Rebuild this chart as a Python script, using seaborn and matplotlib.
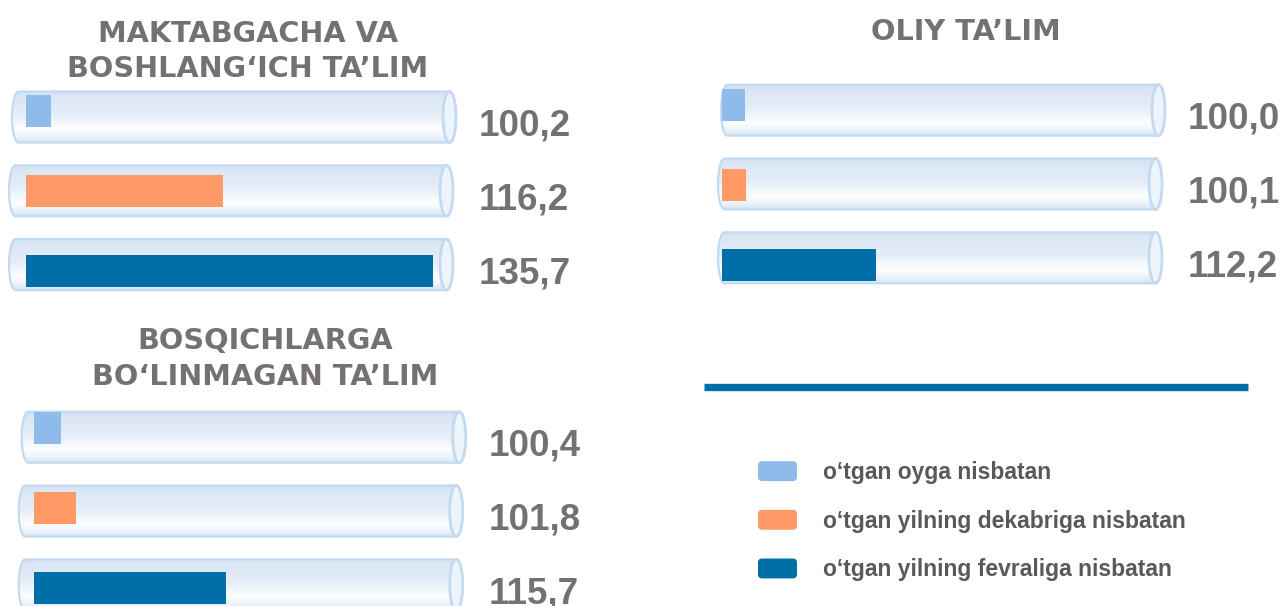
import numpy as np
import pandas as pd
import matplotlib
matplotlib.use("Agg")
import matplotlib.pyplot as plt
import seaborn as sns
from matplotlib import font_manager as fm
from matplotlib.path import Path
from matplotlib.patches import PathPatch, Ellipse, Patch, FancyBboxPatch
from matplotlib.legend_handler import HandlerPatch
from matplotlib.lines import Line2D
from matplotlib.colors import LinearSegmentedColormap

# ---------------- data ----------------
series = [
    "o‘tgan oyga nisbatan",
    "o‘tgan yilning dekabriga nisbatan",
    "o‘tgan yilning fevraliga nisbatan",
]
series_colors = ["#8FBBEB", "#FF9966", "#006FA8"]

maktabgacha_values = [100.2, 116.2, 135.7]
oliy_values = [100.0, 100.1, 112.2]
bosqichsiz_values = [100.4, 101.8, 115.7]

titles = [
    ["MAKTABGACHA VA", "BOSHLANG‘ICH TA’LIM"],
    ["OLIY TA’LIM"],
    ["BOSQICHLARGA", "BO‘LINMAGAN TA’LIM"],
]

# ---------------- style ----------------
sns.set_style("white")
plt.rcParams["font.family"] = ["DejaVu Sans"]


def pick_font(names):
    for name in names:
        try:
            fm.findfont(fm.FontProperties(family=name, weight="bold"),
                        fallback_to_default=False)
            return name
        except ValueError:
            continue
    return "DejaVu Sans"


narrow = pick_font(["Liberation Sans Narrow", "Liberation Sans"])
is_narrow = narrow == "Liberation Sans Narrow"
value_size = 30.5 if is_narrow else 26.5
legend_size = 19.5 if is_narrow else 16.5

TITLE_COLOR = "#767171"
LEGEND_TEXT = "#595959"
TRACK_EDGE = "#C4DAF0"

W, H = 1280, 606
PX_PER_UNIT = 10.76      # horizontal pixels per index point
PX_PER_ROW = 80          # vertical pixels per category row
BASE = 97.9              # left edge of the value scale

track_cmap = LinearSegmentedColormap.from_list(
    "track",
    [(0.0, "#D1E1F2"), (0.08, "#D9E6F4"), (0.45, "#E5EEF8"),
     (0.74, "#FDFEFF"), (0.86, "#F0F5FB"), (1.0, "#D7E5F4")],
)

fig = plt.figure(figsize=(W / 100, H / 100), dpi=100)
fig.patch.set_facecolor("white")

# layout of the three panels (pixels)
panels = [
    dict(values=maktabgacha_values, title=titles[0], left=26, width=427,
         row0=110.85, track0=0.077, title_x=248, title_base=[41.7, 76.7]),
    dict(values=oliy_values, title=titles[1], left=722, width=440,
         row0=105.0, track0=0.065, title_x=966, title_base=[40.0]),
    dict(values=bosqichsiz_values, title=titles[2], left=34, width=428.7,
         row0=427.85, track0=0.117, title_x=265, title_base=[349.0, 385.0]),
]

TRACK_LEN_PX = 444
TRACK_H_PX = 51
CAP_W_PX = 6.5
TRACK_STEP = 0.9225
FIRST_SHIFT_PX = 3


def draw_track(ax, x_left, x_right, yc):
    rx = CAP_W_PX / PX_PER_UNIT
    hh = (TRACK_H_PX / 2) / PX_PER_ROW
    cxr, cxl = x_right - rx, x_left + rx
    t1 = np.linspace(-np.pi / 2, np.pi / 2, 40)
    t2 = np.linspace(np.pi / 2, 3 * np.pi / 2, 40)
    pts = np.vstack([
        np.column_stack([cxr + rx * np.cos(t1), yc + hh * np.sin(t1)]),
        np.column_stack([cxl + rx * np.cos(t2), yc + hh * np.sin(t2)]),
    ])
    path = Path(np.vstack([pts, pts[:1]]), closed=True)

    clip = PathPatch(path, transform=ax.transData)
    grad = np.linspace(0, 1, 256)[:, None]
    im = ax.imshow(grad, cmap=track_cmap, extent=(x_left, x_right, yc + hh, yc - hh),
                   origin="upper", aspect="auto", interpolation="bilinear", zorder=0.5)
    im.set_clip_path(clip)
    im.set_clip_box(fig.bbox)

    ax.add_patch(PathPatch(path, facecolor="none", edgecolor=TRACK_EDGE,
                           lw=1.6, zorder=0.6, clip_on=False))
    ax.add_patch(Ellipse((cxr, yc), 2 * rx, 2 * hh, facecolor="#EDF4FB",
                         edgecolor=TRACK_EDGE, lw=2.0, zorder=0.7, clip_on=False))


for p in panels:
    ax_h = 3 * PX_PER_ROW
    top = p["row0"] - PX_PER_ROW / 2
    ax = fig.add_axes([p["left"] / W, 1 - (top + ax_h) / H, p["width"] / W, ax_h / H])
    ax.patch.set_alpha(0)

    df = pd.DataFrame({"ko‘rsatkich": series, "qiymat": p["values"]})
    sns.barplot(data=df, x="qiymat", y="ko‘rsatkich", hue="ko‘rsatkich",
                palette=series_colors, orient="h", width=0.4, saturation=1,
                legend=False, linewidth=0, ax=ax, zorder=2)

    x_max = BASE + p["width"] / PX_PER_UNIT
    for i, v in enumerate(p["values"]):
        yc = p["track0"] + i * TRACK_STEP
        shift = (FIRST_SHIFT_PX if i == 0 else 0) / PX_PER_UNIT
        x_right = x_max + shift
        x_left = x_right - TRACK_LEN_PX / PX_PER_UNIT
        draw_track(ax, x_left, x_right, yc)
        ax.text(x_max + 26 / PX_PER_UNIT, yc + 18.5 / PX_PER_ROW,
                f"{v:.1f}".replace(".", ","), ha="left", va="baseline",
                fontsize=value_size, fontweight="bold", family=narrow,
                color=TITLE_COLOR, clip_on=False)

    ax.set_xlim(BASE, x_max)
    ax.set_ylim(2.5, -0.5)
    ax.axis("off")

    for line, base in zip(p["title"], p["title_base"]):
        fig.text(p["title_x"] / W, 1 - base / H, line, ha="center", va="baseline",
                 fontsize=20.7, fontweight="bold", color=TITLE_COLOR,
                 family="DejaVu Sans")

# separator line above the legend
fig.add_artist(Line2D([704 / W, 1248 / W], [1 - 387 / H, 1 - 387 / H],
                      color="#006FA8", lw=5.3, solid_capstyle="butt",
                      transform=fig.transFigure))


class RoundedKey(HandlerPatch):
    def create_artists(self, legend, orig_handle, xdescent, ydescent,
                       width, height, fontsize, trans):
        box = FancyBboxPatch((-xdescent, -ydescent), width, height,
                             boxstyle="round,pad=0,rounding_size=3",
                             facecolor=orig_handle.get_facecolor(),
                             edgecolor="none", transform=trans)
        return [box]


handles = [Patch(facecolor=c, label=s) for c, s in zip(series_colors, series)]
fs_px = legend_size * 100 / 72
fig.legend(handles=handles, loc="upper left",
           bbox_to_anchor=(758 / W, 1 - 461 / H), frameon=False,
           borderpad=0, borderaxespad=0,
           handlelength=39 / fs_px, handleheight=22 / fs_px,
           handletextpad=26 / fs_px, labelspacing=1.12,
           prop=fm.FontProperties(family=narrow, weight="bold", size=legend_size),
           labelcolor=LEGEND_TEXT, handler_map={Patch: RoundedKey()})

fig.savefig("out.png", dpi=100, facecolor="white")
